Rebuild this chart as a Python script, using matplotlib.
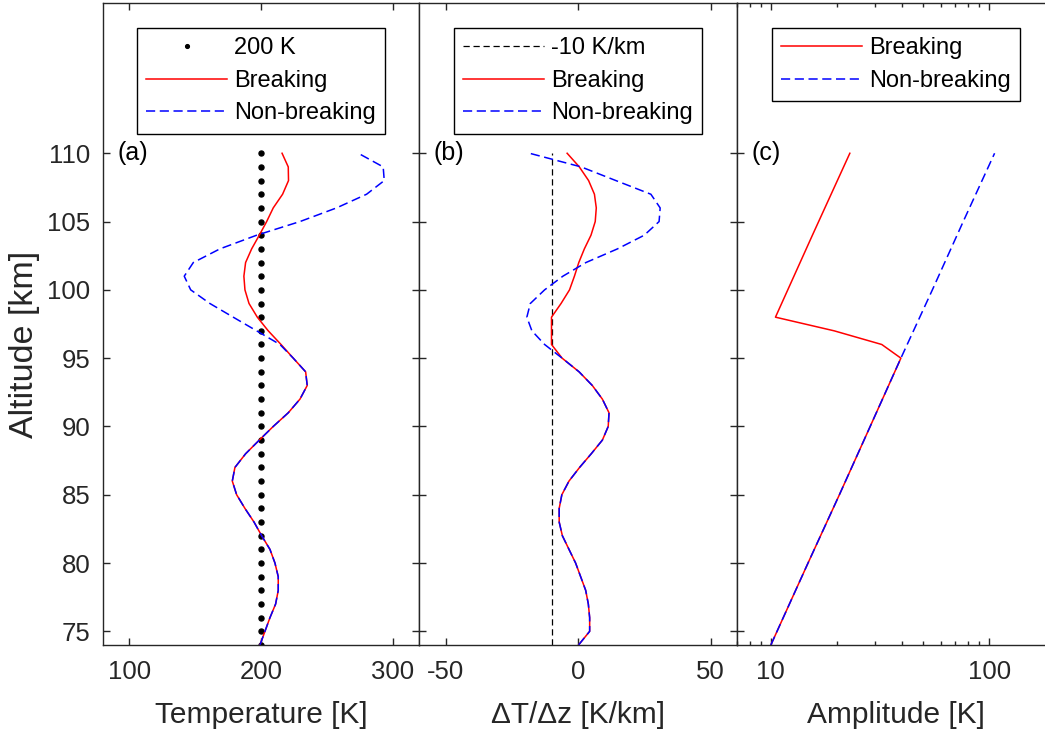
import matplotlib
matplotlib.use('Agg')
import numpy as np
import matplotlib.pyplot as plt
from matplotlib.ticker import NullFormatter, LogLocator

plt.rcParams['font.family'] = ['Liberation Sans', 'DejaVu Sans']
plt.rcParams['axes.unicode_minus'] = False

# altitude grid [km]
alt = list(range(74, 111))

# (a) temperature [K]
temp_break = [199.2, 203.0, 206.8, 211.1, 213.1, 213.1, 210.6, 206.8, 200.5, 194.7,
              187.8, 181.5, 178.2, 180.2, 188.3, 198.7, 209.3, 220.7, 229.6, 235.1,
              233.9, 224.5, 215.2, 205.5, 197.2, 190.9, 187.8, 187.0, 188.3, 192.9,
              198.7, 204.3, 209.3, 216.4, 220.9, 220.7, 216.0]
temp_nonbreak = [199.2, 203.0, 206.8, 211.1, 213.1, 213.1, 210.6, 206.8, 200.5, 194.7,
                 187.8, 181.5, 178.2, 180.2, 188.3, 198.7, 209.3, 220.7, 229.6, 235.1,
                 233.9, 224.5, 214.4, 196.7, 178.9, 161.2, 146.6, 141.7, 148.6, 168.8,
                 196.7, 229.6, 257.4, 280.2, 293.6, 292.8, 273.9]
ref_temp = 200

# (b) gradient [K/km]
grad_break = [0.2, 4.4, 4.4, 3.9, 2.9, 1.0, -0.9, -3.4, -5.9, -7.1,
              -7.1, -6.1, -3.4, 0.6, 5.0, 9.2, 11.4, 11.7, 9.2, 5.4,
              0.4, -6.0, -10.0, -10.0, -10.0, -6.4, -3.2, -1.35, 0.3, 2.4,
              4.9, 6.5, 6.9, 6.2, 4.0, 0.5, -4.1]
grad_nonbreak = [0.2, 4.4, 4.4, 3.9, 2.9, 1.0, -0.9, -3.4, -5.9, -7.1,
                 -7.1, -6.1, -3.4, 0.6, 5.0, 9.2, 11.4, 11.7, 9.2, 5.4,
                 0.4, -6.0, -12.6, -17.4, -19.3, -18.0, -12.6, -5.7, 3.0, 14.9,
                 25.0, 30.6, 31.0, 27.5, 14.3, 1.2, -18.3]
ref_grad = -10

# (c) amplitude [K]
amp_alt_break = [74, 80, 85, 90, 95, 96, 97, 98, 104, 110]
amp_break = [10.0, 14.8, 20.6, 28.5, 39.4, 32.2, 19.5, 10.5, 15.5, 23.0]
amp_alt_nonbreak = [74, 80, 85, 90, 95, 100, 105, 110]
amp_nonbreak = [10.0, 14.8, 20.6, 28.5, 39.4, 54.9, 76.0, 105.8]

W, H = 1045, 734
fig = plt.figure(figsize=(W / 100, H / 100), dpi=100)

def px_axes(x0, x1, top=3, bottom=645):
    return [x0 / W, (H - bottom) / H, (x1 - x0) / W, (bottom - top) / H]

ax1 = fig.add_axes(px_axes(103, 419))
ax2 = fig.add_axes(px_axes(419, 737), sharey=ax1)
ax3 = fig.add_axes(px_axes(737, 1055), sharey=ax1)

dk = '#262626'
red = '#FF0000'
blue = '#0000FF'

ax1.plot([ref_temp] * len(alt), alt, 'o', color='k', ms=3.6, ls='none', label='200 K')
ax1.plot(temp_break, alt, color=red, lw=1.1, label='Breaking')
ax1.plot(temp_nonbreak, alt, color=blue, lw=1.1, dashes=(6, 3), label='Non-breaking')

ax2.plot([ref_grad, ref_grad], [alt[0], alt[-1]], color='k', lw=0.9, dashes=(5, 3),
         label='-10 K/km')
ax2.plot(grad_break, alt, color=red, lw=1.1, label='Breaking')
ax2.plot(grad_nonbreak, alt, color=blue, lw=1.1, dashes=(6, 3), label='Non-breaking')

ax3.plot(amp_break, amp_alt_break, color=red, lw=1.1, label='Breaking')
ax3.plot(amp_nonbreak, amp_alt_nonbreak, color=blue, lw=1.1, dashes=(6, 3),
         label='Non-breaking')
ax3.set_xscale('log')

ax1.set_ylim(74, 121)
ax1.set_yticks(range(75, 111, 5))
ax1.set_xlim(80, 320)
ax1.set_xticks([100, 200, 300])
ax2.set_xlim(-60, 60)
ax2.set_xticks([-50, 0, 50])
ax3.set_xlim(7, 200)
ax3.set_xticks([10, 100])
ax3.set_xticklabels(['10', '100'])
ax3.xaxis.set_minor_locator(LogLocator(base=10, subs=np.arange(2, 10)))
ax3.xaxis.set_minor_formatter(NullFormatter())

for ax, tag in zip([ax1, ax2, ax3], ['(a)', '(b)', '(c)']):
    for s in ax.spines.values():
        s.set_color(dk)
        s.set_linewidth(1.0)
    ax.tick_params(which='both', direction='in', top=True, right=True,
                   colors=dk, labelsize=18.5, width=1.0)
    ax.tick_params(which='major', length=5)
    ax.tick_params(which='minor', length=3)
    ax.tick_params(axis='x', pad=11)
    ax.tick_params(axis='y', pad=9)
    ax.text(0.045, 110, tag, transform=ax.get_yaxis_transform(), fontsize=18,
            ha='left', va='center', color='k')
    leg = ax.legend(loc='upper center', fontsize=17, fancybox=False, framealpha=1,
                    edgecolor='k', handlelength=3.4, handletextpad=0.3,
                    borderpad=0.4, labelspacing=0.45, borderaxespad=1.05,
                    numpoints=1, markerscale=0.75)
    leg.get_frame().set_linewidth(1.0)

ax2.tick_params(axis='y', labelleft=False)
ax3.tick_params(axis='y', labelleft=False)

ax1.set_xlabel('Temperature [K]', fontsize=21.5, color=dk, va='center')
ax2.set_xlabel('ΔT/Δz [K/km]', fontsize=21.5, color=dk, va='center')
ax3.set_xlabel('Amplitude [K]', fontsize=21.5, color=dk, va='center')
for ax in [ax1, ax2, ax3]:
    ax.xaxis.set_label_coords(0.5, (645 - 715) / 642)
ax1.set_ylabel('Altitude [km]', fontsize=24.5, color=dk, va='center')
ax1.yaxis.set_label_coords((25 - 103) / 316, (645 - 344) / 642)

fig.savefig('out.png', dpi=100)
